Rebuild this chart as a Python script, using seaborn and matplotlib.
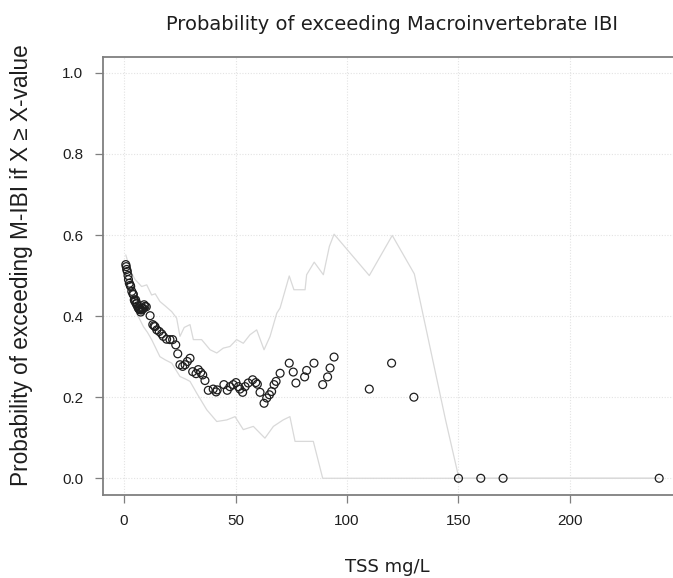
import matplotlib
matplotlib.use("Agg")
import matplotlib.pyplot as plt
import seaborn as sns
import pandas as pd
import numpy as np

# ---- data ----
tss = [0.8, 1.0, 1.2, 1.5, 1.8, 2.0, 2.4, 2.8, 3.0, 3.5, 4.0, 4.2, 4.6, 4.9, 5.2,
       5.5, 5.7, 6.0, 6.4, 6.7, 7.0, 7.2, 7.5, 7.9, 8.0, 8.3, 8.7, 9.0, 9.4, 10.0,
       11.7, 12.9, 13.5, 13.9, 14.7, 15.8, 16.9, 17.6, 19.1, 20.6, 21.8, 23.2,
       24.1, 25.1, 26.3, 27.4, 28.4, 29.6, 30.8, 32.3, 33.3, 34.4, 35.3, 36.3,
       37.8, 40.0, 41.3, 41.8, 44.8, 46.3, 47.5, 49.0, 50.2, 51.3, 52.0, 53.2,
       54.3, 55.7, 57.7, 59.1, 59.8, 61.0, 62.8, 64.0, 65.2, 66.2, 67.3, 68.2,
       70.0, 74.1, 75.9, 77.1, 81.0, 81.9, 85.2, 89.1, 91.3, 92.4, 94.2,
       110, 120, 130, 150, 160, 170, 240]
prob = [0.527, 0.522, 0.515, 0.510, 0.500, 0.490, 0.481, 0.476, 0.473, 0.461,
        0.455, 0.453, 0.440, 0.436, 0.440, 0.430, 0.432, 0.425, 0.420, 0.418,
        0.416, 0.416, 0.410, 0.415, 0.420, 0.418, 0.419, 0.428, 0.424, 0.423,
        0.401, 0.379, 0.376, 0.374, 0.366, 0.362, 0.356, 0.350, 0.343, 0.342,
        0.342, 0.329, 0.307, 0.280, 0.276, 0.280, 0.288, 0.296, 0.263, 0.258,
        0.268, 0.261, 0.255, 0.241, 0.217, 0.220, 0.213, 0.218, 0.231, 0.217,
        0.226, 0.231, 0.236, 0.226, 0.220, 0.212, 0.226, 0.235, 0.243, 0.236,
        0.232, 0.212, 0.185, 0.198, 0.206, 0.214, 0.231, 0.239, 0.259, 0.284,
        0.262, 0.235, 0.250, 0.266, 0.284, 0.231, 0.250, 0.272, 0.299,
        0.220, 0.284, 0.200, 0.0, 0.0, 0.0, 0.0]

upper_x = [0.8, 3.0, 5.0, 7.9, 10.2, 12.4, 14.0, 16.1, 18.5, 21.4, 23.6, 25.1,
           27.0, 29.6, 31.1, 34.8, 38.6, 41.6, 44.5, 47.5, 50.5, 53.5, 56.5,
           59.5, 62.8, 65.5, 68.5, 70.0, 74.1, 76.2, 81.2, 81.9, 85.3, 89.4,
           92.1, 94.2, 110, 120.3, 130.2, 144.2, 150.2, 240]
upper_y = [0.551, 0.51, 0.49, 0.473, 0.477, 0.452, 0.455, 0.436, 0.425, 0.411,
           0.395, 0.350, 0.372, 0.379, 0.342, 0.342, 0.317, 0.309, 0.321, 0.325,
           0.342, 0.333, 0.354, 0.366, 0.317, 0.350, 0.407, 0.420, 0.499, 0.465,
           0.465, 0.502, 0.533, 0.502, 0.572, 0.602, 0.500, 0.599, 0.504, 0.144,
           0.0, 0.0]
lower_x = [0.8, 2.0, 4.0, 5.7, 8.7, 10.5, 12.4, 16.1, 18.5, 21.4, 25.1, 27.5,
           29.6, 32.6, 37.1, 41.6, 46.1, 49.8, 53.5, 58.0, 63.2, 67.0, 71.4,
           74.4, 76.7, 84.9, 89.1, 240]
lower_y = [0.500, 0.470, 0.430, 0.407, 0.374, 0.360, 0.342, 0.300, 0.292, 0.284,
           0.251, 0.245, 0.239, 0.210, 0.169, 0.140, 0.144, 0.152, 0.120, 0.128,
           0.099, 0.128, 0.144, 0.152, 0.091, 0.091, 0.0, 0.0]

xticks = [0, 50, 100, 150, 200]
yticks = [0.0, 0.2, 0.4, 0.6, 0.8, 1.0]

pts = pd.DataFrame({"TSS": tss, "P": prob})
up = pd.DataFrame({"TSS": upper_x, "P": upper_y})
lo = pd.DataFrame({"TSS": lower_x, "P": lower_y})

sns.set_theme(style="white")
plt.rcParams["font.family"] = ["Liberation Sans", "DejaVu Sans"]

fig = plt.figure(figsize=(6.73, 5.78), dpi=100)
W, H = 673, 578
left, right, top, bottom = 102.6, 673, 56.6, 494.5
ax = fig.add_axes([left / W, (H - bottom) / H, (right - left) / W, (bottom - top) / H])

ax.set_xlim(-9.6, 246.2)
ax.set_ylim(-0.04, 1.04)

ax.set_xticks(xticks)
ax.set_yticks(yticks)
ax.grid(True, linestyle=(0, (1, 1.5)), color="#e3e3e3", linewidth=0.8)
ax.set_axisbelow(True)

sns.lineplot(data=up, x="TSS", y="P", ax=ax, sort=False, estimator=None,
             color="#d9d9d9", linewidth=0.9)
sns.lineplot(data=lo, x="TSS", y="P", ax=ax, sort=False, estimator=None,
             color="#d9d9d9", linewidth=0.9)
sns.scatterplot(data=pts, x="TSS", y="P", ax=ax, marker="o", s=32,
                facecolor="none", edgecolor="#1e1e1e", linewidth=0.9, zorder=5)

for side in ["left", "top", "bottom"]:
    ax.spines[side].set_visible(True)
    ax.spines[side].set_color("#7f7f7f")
    ax.spines[side].set_linewidth(1.3)
ax.spines["right"].set_visible(False)

ax.tick_params(axis="both", which="both", direction="out", length=6, width=0.9,
               color="#7f7f7f", labelsize=11, labelcolor="#1e1e1e", pad=8,
               bottom=True, left=True)
ax.set_xticklabels([str(v) for v in xticks])
ax.set_yticklabels([f"{v:.1f}" for v in yticks])

ax.set_xlabel("TSS mg/L", fontsize=13, family=["DejaVu Sans"], color="#1e1e1e",
              labelpad=22)
ax.set_ylabel("Probability of exceeding M-IBI if X \u2265 X-value", fontsize=16.3,
              color="#1e1e1e", labelpad=12)
ax.yaxis.set_label_coords(-(left - 33) / (right - left),
                          (bottom - 265) / (bottom - top))
fig.text(391.6 / W, 1 - 25 / H, "Probability of exceeding Macroinvertebrate IBI",
         ha="center", va="center", fontsize=14, family=["DejaVu Sans"],
         color="#1e1e1e")

fig.savefig("out.png", dpi=100)
